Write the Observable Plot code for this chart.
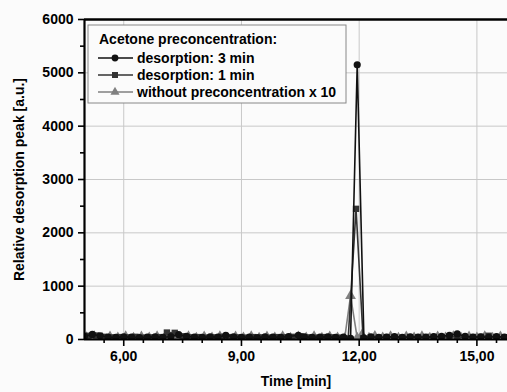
<!DOCTYPE html>
<html><head><meta charset="utf-8">
<script src="https://cdn.jsdelivr.net/npm/d3@7"></script>
<script src="https://cdn.jsdelivr.net/npm/@observablehq/plot@0.6"></script>
<style>
body{margin:0;background:#fbfbfb;}
#chart svg{font-family:"Liberation Sans",Arial,sans-serif;font-weight:bold;}
</style></head>
<body><div id="chart"></div>
<script>
const legendTitle = "Acetone preconcentration:";
const seriesNames = ["desorption: 3 min","desorption: 1 min","without preconcentration x 10"];
const seriesColors = ["#111111","#333333","#808080"];
const seriesSymbols = ["circle","square","triangle"];
const xTicks = [6,9,12,15];
const yTicks = [0,1000,2000,3000,4000,5000,6000];

const desorption3 = [[5.0,60],[5.2,95],[5.4,70],[5.6,45],[5.8,40],[6.0,50],[6.2,45],[6.4,35],[6.6,45],[6.8,50],[7.0,40],[7.2,55],[7.4,90],[7.6,60],[7.8,45],[8.0,40],[8.2,50],[8.4,45],[8.6,80],[8.8,50],[9.0,40],[9.2,45],[9.4,35],[9.6,50],[9.8,45],[10.0,40],[10.2,55],[10.45,80],[10.6,50],[10.8,40],[11.0,45],[11.2,50],[11.4,40],[11.6,45],[11.78,20],[11.95,5150],[12.12,30],[12.3,50],[12.5,40],[12.7,45],[12.9,55],[13.1,40],[13.3,50],[13.5,45],[13.7,40],[13.9,55],[14.1,60],[14.3,80],[14.5,105],[14.7,60],[14.9,45],[15.1,50],[15.3,40],[15.5,55],[15.7,45]];
const desorption1 = [[5.1,70],[5.3,75],[5.5,50],[5.7,40],[5.9,45],[6.1,40],[6.3,50],[6.5,35],[6.7,40],[6.9,45],[7.1,130],[7.3,125],[7.5,60],[7.7,40],[7.9,45],[8.1,35],[8.3,40],[8.5,50],[8.7,45],[8.9,40],[9.1,35],[9.3,45],[9.5,40],[9.7,35],[9.9,45],[10.1,40],[10.3,50],[10.5,60],[10.7,40],[10.9,35],[11.1,45],[11.3,40],[11.5,35],[11.72,20],[11.92,2450],[12.1,25],[12.3,40],[12.5,35],[12.7,45],[12.9,40],[13.1,35],[13.3,45],[13.5,40],[13.7,50],[13.9,45],[14.1,40],[14.3,55],[14.5,50],[14.7,40],[14.9,45],[15.1,50],[15.3,70],[15.5,45],[15.7,40]];
const withoutPre = [[5.05,40],[5.25,55],[5.45,30],[5.65,50],[5.85,35],[6.05,55],[6.25,30],[6.45,50],[6.65,35],[6.85,55],[7.05,30],[7.25,50],[7.45,35],[7.65,55],[7.85,30],[8.05,50],[8.25,35],[8.45,55],[8.65,30],[8.85,50],[9.05,35],[9.25,55],[9.45,30],[9.65,50],[9.85,35],[10.05,55],[10.25,30],[10.45,50],[10.65,35],[10.85,55],[11.05,30],[11.25,50],[11.45,35],[11.63,20],[11.78,820],[11.95,30],[12.07,85],[12.25,30],[12.4,60],[12.6,35],[12.8,55],[13.0,30],[13.2,50],[13.4,35],[13.6,55],[13.8,30],[14.0,50],[14.2,35],[14.4,55],[14.6,30],[14.8,50],[15.0,35],[15.2,55],[15.4,30],[15.6,50]];

const allSeries = [withoutPre, desorption1, desorption3];
const order = [2,1,0];
const fmt = d => d3.format(".2f")(d).replace(".", ",");
const xMinor = d3.range(5.5, 15.8, 0.5).filter(v => !xTicks.includes(v));
const yMinor = d3.range(500, 6000, 1000);

const seriesMarks = [];
allSeries.forEach((data, k) => {
  const i = order[k];
  const rows = data.map(([t, v]) => ({t, v}));
  seriesMarks.push(Plot.line(rows, {x: "t", y: "v", stroke: seriesColors[i], strokeWidth: 1.6, clip: true}));
  seriesMarks.push(Plot.dot(rows, {x: "t", y: "v", symbol: () => seriesSymbols[i], fill: seriesColors[i], r: i === 2 ? 4 : 3.6, clip: true}));
});

const plot = Plot.plot({
  width: 507, height: 392,
  marginLeft: 84, marginRight: 0, marginTop: 19, marginBottom: 53,
  style: {background: "transparent", fontSize: "14px"},
  x: {domain: [5, 15.78], label: null},
  y: {domain: [0, 6000], label: null},
  marks: [
    Plot.gridX(xTicks, {stroke: "#c8c8c8", strokeOpacity: 1}),
    Plot.gridY([1000,2000,3000,4000,5000], {stroke: "#c8c8c8", strokeOpacity: 1}),
    ...seriesMarks,
    Plot.ruleY([0], {stroke: "#000", strokeWidth: 2}),
    Plot.ruleY([6000], {stroke: "#000", strokeWidth: 2.5}),
    Plot.ruleX([5], {stroke: "#000", strokeWidth: 2.2}),
    Plot.axisX(xTicks, {tickSize: 7, tickPadding: 5, tickFormat: fmt, strokeWidth: 1.6, label: "Time [min]", labelAnchor: "center", labelArrow: "none", labelOffset: 46}),
    Plot.axisX(xMinor, {tickSize: 4, strokeWidth: 1.6, tickFormat: () => "", label: null}),
    Plot.axisY(yTicks, {tickSize: 6, tickPadding: 5, strokeWidth: 1.6, tickFormat: d => String(d), label: "Relative desorption peak [a.u.]", labelAnchor: "center", labelArrow: "none", labelOffset: 70}),
    Plot.axisY(yMinor, {tickSize: 4, strokeWidth: 1.6, tickFormat: () => "", label: null})
  ]
});
document.getElementById("chart").appendChild(plot);

// legend inside plot
const svg = d3.select(plot);
const g = svg.append("g").attr("font-size", 14).attr("font-weight", "bold").attr("text-anchor", "start");
g.append("rect").attr("x", 88).attr("y", 25).attr("width", 258).attr("height", 78)
  .attr("fill", "#fbfbfb").attr("stroke", "#888").attr("stroke-width", 1);
g.append("text").attr("x", 99).attr("y", 44).text(legendTitle);
seriesNames.forEach((name, i) => {
  const cy = 58 + i * 17;
  g.append("line").attr("x1", 98).attr("x2", 133).attr("y1", cy).attr("y2", cy)
    .attr("stroke", seriesColors[i]).attr("stroke-width", 1.6);
  g.append("path").attr("transform", `translate(115,${cy})`)
    .attr("d", d3.symbol(i === 0 ? d3.symbolCircle : i === 1 ? d3.symbolSquare : d3.symbolTriangle, 36)())
    .attr("fill", seriesColors[i]);
  g.append("text").attr("x", 137).attr("y", cy + 5).text(name);
});
</script></body></html>
